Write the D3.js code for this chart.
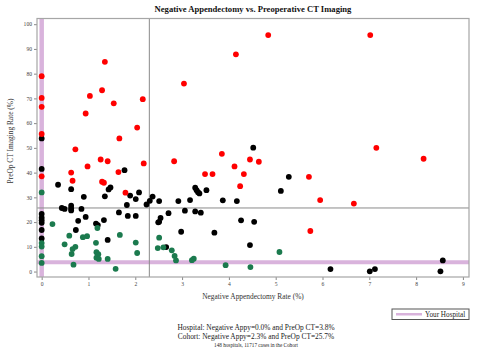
<!DOCTYPE html>
<html>
<head>
<meta charset="utf-8">
<script src="https://cdn.jsdelivr.net/npm/d3@7"></script>
<style>
  html, body { margin: 0; padding: 0; background: #fff; }
  svg { display: block; }
</style>
</head>
<body>
<div id="chart"></div>
<script>
// ── data: [negative appy rate %, preop CT rate %] per hospital ─────────────
const redPts = [
  [0, 79.0], [0, 70.2], [0, 66.6], [0, 55.6], [0, 38.5],
  [0.94, 63.9], [1.03, 71.0], [1.35, 84.8], [1.29, 73.3], [1.54, 68.0], [2.16, 69.7],
  [2.04, 58.2], [1.66, 53.8], [0.72, 49.4], [0.98, 42.5], [1.26, 45.3], [1.41, 44.6],
  [0.63, 40.0], [1.64, 40.2], [2.18, 43.7], [0.66, 36.7], [1.29, 36.3], [1.33, 35.9],
  [1.79, 31.9],
  [3.04, 76.0], [2.83, 44.6], [4.15, 87.8], [3.85, 47.6], [4.12, 42.5], [3.49, 39.4],
  [3.65, 39.4], [4.32, 39.4], [4.45, 45.3], [4.24, 34.5], [4.64, 44.4],
  [4.84, 95.6], [7.02, 95.6], [7.15, 50.0], [8.16, 45.6], [5.71, 38.3], [5.95, 28.9],
  [6.67, 27.5], [5.74, 16.4]
];
const blackPts = [
  [0, 53.8], [0, 41.5], [0, 23.3], [0, 21.8], [0, 20.7], [0, 19.7], [0, 16.8], [0, 13.4],
  [1.77, 41.0], [0.35, 35.1], [0.63, 33.3], [0.90, 30.2], [1.47, 34.0], [1.43, 33.2],
  [1.35, 30.4], [1.89, 30.7], [2.01, 29.3], [2.08, 32.0], [1.82, 26.9], [0.43, 25.7],
  [0.49, 25.3], [0.63, 26.6], [0.63, 25.5], [0.63, 24.7], [0.85, 25.3], [0.94, 22.1],
  [0.78, 20.5], [1.16, 19.4], [1.20, 18.8], [1.33, 20.8], [1.65, 23.9], [1.84, 22.5],
  [2.01, 22.5], [0.73, 16.8], [1.41, 12.8],
  [2.24, 27.1], [2.31, 28.6], [2.37, 30.3], [2.51, 28.5], [2.92, 28.5], [3.17, 28.9],
  [3.28, 33.9], [3.31, 32.9], [3.34, 32.1], [3.37, 31.6], [3.52, 32.9], [3.87, 28.8],
  [4.17, 28.5], [4.52, 50.1], [2.71, 23.6], [3.06, 24.6], [3.28, 24.3], [3.40, 23.8],
  [2.54, 21.7], [2.51, 20.1], [2.49, 19.9], [4.26, 20.7], [4.54, 20.1], [2.98, 16.1],
  [3.69, 15.7], [2.66, 9.9], [4.45, 10.7],
  [5.28, 38.3], [5.11, 32.6], [6.17, 1.0], [8.57, 4.5], [7.01, 0.1], [7.12, 1.0], [8.52, 0.1]
];
const greenPts = [
  [0, 32.0], [0, 11.5], [0, 10.1], [0, 6.2], [0, 3.5],
  [0.23, 19.2], [1.19, 17.6], [0.59, 14.5], [0.88, 13.9], [0.97, 14.3], [0.49, 11.0],
  [0.72, 10.0], [0.66, 9.1], [0.64, 7.1], [1.67, 14.8], [1.16, 11.6], [2.01, 11.7],
  [2.04, 7.5], [1.17, 7.8], [1.21, 7.0], [1.17, 5.6], [1.22, 5.1], [1.41, 5.1],
  [0.68, 2.8], [1.58, 1.1],
  [2.51, 13.7], [2.48, 9.5], [2.60, 9.8], [2.78, 8.6], [2.84, 6.3], [2.87, 4.5],
  [3.21, 4.6], [3.25, 5.2], [3.93, 2.6], [4.46, 1.8], [5.08, 7.9]
];

const hospital = [0.0, 3.8];   // [neg appy, preop CT]
const cohort = [2.3, 25.7];

const xTicks = [0, 1, 2, 3, 4, 5, 6, 7, 8, 9];
const yTicks = [0, 10, 20, 30, 40, 50, 60, 70, 80, 90, 100];

const footLines = [
  'Hospital: Negative Appy=0.0% and PreOp CT=3.8%',
  'Cohort: Negative Appy=2.3% and PreOp CT=25.7%'
];
const footNote = '148 hospitals, 11717 cases in the Cohort';

// ── layout ─────────────────────────────────────────────────────────────────
const W = 500, H = 363;
const FONT = '"Liberation Serif", "Times New Roman", serif';
const PL = 37, PR = 469, PT = 18.5, PB = 277;
const DOT_R = 2.9;

const x = d3.scaleLinear().domain([-0.1, 9.13]).range([PL, PR]);
const y = d3.scaleLinear().domain([-2.2, 102.3]).range([PB, PT]);

const svg = d3.select('#chart').append('svg').attr('width', W).attr('height', H);

// title
svg.append('text')
  .attr('x', 253).attr('y', 12)
  .attr('text-anchor', 'middle')
  .attr('font-family', FONT).attr('font-weight', 'bold').attr('font-size', '8.6px')
  .attr('fill', '#111')
  .text('Negative Appendectomy vs. Preoperative CT Imaging');

// ── axes ───────────────────────────────────────────────────────────────────
const yAxis = svg.append('g')
  .attr('transform', `translate(${PL},0)`)
  .call(d3.axisLeft(y).tickValues(yTicks).tickSize(3).tickPadding(2));
const xAxis = svg.append('g')
  .attr('transform', `translate(0,${PB})`)
  .call(d3.axisBottom(x).tickValues(xTicks).tickSize(3).tickPadding(2));

[xAxis, yAxis].forEach((a) => {
  a.select('.domain').remove();
  a.selectAll('line').attr('stroke', '#888');
  a.selectAll('text').attr('font-family', FONT).attr('font-size', '5.6px').attr('fill', '#444');
});

// axis labels
svg.append('text')
  .attr('x', 253).attr('y', 299)
  .attr('text-anchor', 'middle')
  .attr('font-family', FONT).attr('font-size', '7.4px').attr('fill', '#333')
  .text('Negative Appendectomy Rate (%)');

svg.append('text')
  .attr('transform', `translate(13,141) rotate(-90)`)
  .attr('text-anchor', 'middle')
  .attr('font-family', FONT).attr('font-size', '7.4px').attr('fill', '#333')
  .text('PreOp CT Imaging Rate (%)');

// ── reference lines ────────────────────────────────────────────────────────
const hosCol = '#d9b3dc';
svg.append('line')
  .attr('x1', PL).attr('x2', PR).attr('y1', y(hospital[1])).attr('y2', y(hospital[1]))
  .attr('stroke', hosCol).attr('stroke-width', 4);
svg.append('line')
  .attr('x1', x(hospital[0])).attr('x2', x(hospital[0])).attr('y1', PT).attr('y2', PB)
  .attr('stroke', hosCol).attr('stroke-width', 4.5);

svg.append('line')
  .attr('x1', PL).attr('x2', PR).attr('y1', y(cohort[1])).attr('y2', y(cohort[1]))
  .attr('stroke', '#8a8a8a').attr('stroke-width', 1);
svg.append('line')
  .attr('x1', x(cohort[0])).attr('x2', x(cohort[0])).attr('y1', PT).attr('y2', PB)
  .attr('stroke', '#8a8a8a').attr('stroke-width', 1);

// ── dots ───────────────────────────────────────────────────────────────────
const groups = [
  { pts: blackPts, color: '#000000' },
  { pts: greenPts, color: '#1b7a4e' },
  { pts: redPts, color: '#ff0000' }
];
groups.forEach((grp) => {
  svg.append('g').selectAll('circle')
    .data(grp.pts)
    .join('circle')
    .attr('cx', (d) => x(d[0]))
    .attr('cy', (d) => y(d[1]))
    .attr('r', DOT_R)
    .attr('fill', grp.color);
});

// frame
svg.append('rect')
  .attr('x', PL).attr('y', PT).attr('width', PR - PL).attr('height', PB - PT)
  .attr('fill', 'none').attr('stroke', '#a6a6a6').attr('stroke-width', 1.2);

// ── legend ─────────────────────────────────────────────────────────────────
const lg = svg.append('g').attr('transform', 'translate(392,309)');
lg.append('rect')
  .attr('width', 77).attr('height', 10.5)
  .attr('fill', '#fff').attr('stroke', '#555').attr('stroke-width', 1);
lg.append('line')
  .attr('x1', 4).attr('x2', 30).attr('y1', 5.25).attr('y2', 5.25)
  .attr('stroke', hosCol).attr('stroke-width', 2.5);
lg.append('text')
  .attr('x', 33).attr('y', 8)
  .attr('font-family', FONT).attr('font-size', '7.2px').attr('fill', '#222')
  .text('Your Hospital');

// ── footer ─────────────────────────────────────────────────────────────────
footLines.forEach((t, i) => {
  svg.append('text')
    .attr('x', 256).attr('y', 330 + i * 9)
    .attr('text-anchor', 'middle')
    .attr('font-family', FONT).attr('font-size', '7.4px').attr('fill', '#222')
    .text(t);
});
svg.append('text')
  .attr('x', 256).attr('y', 346.5)
  .attr('text-anchor', 'middle')
  .attr('font-family', FONT).attr('font-size', '5.2px').attr('fill', '#222')
  .text(footNote);
</script>
</body>
</html>
